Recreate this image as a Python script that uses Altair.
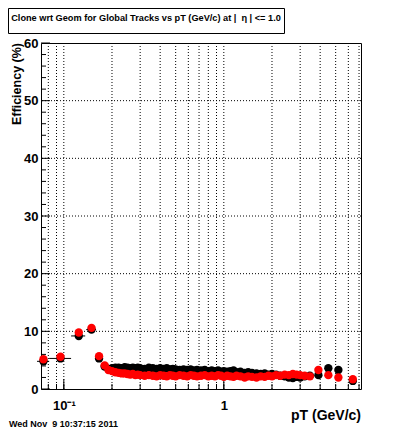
import altair as alt
import pandas as pd

pt = [0.0746, 0.0953, 0.124, 0.149, 0.166, 0.180,
      0.19, 0.20, 0.21, 0.22, 0.23, 0.24, 0.25, 0.26, 0.27, 0.28, 0.29, 0.30,
      0.32, 0.34, 0.36, 0.38, 0.40, 0.42, 0.44, 0.46, 0.48, 0.50, 0.53, 0.56,
      0.59, 0.62, 0.65, 0.68, 0.72, 0.76, 0.80, 0.84, 0.88, 0.92, 0.96, 1.0,
      1.05, 1.1, 1.15, 1.2, 1.27, 1.35, 1.42, 1.5, 1.6, 1.7, 1.8, 1.9, 2.0,
      2.12, 2.25, 2.4, 2.55, 2.7, 2.85, 3.0, 3.2, 3.45, 3.9, 4.5, 5.2, 6.4]
eff_black = [4.8, 5.3, 9.2, 10.3, 5.3, 3.9,
             3.5, 3.6, 3.7, 3.7, 3.6, 3.8, 3.7, 3.6, 3.7, 3.6, 3.7, 3.6,
             3.5, 3.7, 3.6, 3.5, 3.6, 3.5, 3.6, 3.4, 3.5, 3.4, 3.3, 3.4,
             3.3, 3.4, 3.2, 3.3, 3.2, 3.3, 3.1, 3.2, 3.1, 3.2, 3.0, 3.1,
             3.0, 3.1, 3.2, 2.9, 3.0, 2.8, 2.9, 2.8, 2.7, 2.6, 2.7, 2.5, 2.6,
             2.5, 2.3, 2.2, 2.0, 1.9, 2.1, 2.0, 2.2, 2.3, 2.4, 3.6, 3.3, 1.4]
eff_red = [5.15, 5.6, 9.8, 10.6, 5.7, 4.1,
           3.3, 3.1, 2.9, 2.8, 2.7, 2.7, 2.6, 2.5, 2.6, 2.4, 2.5, 2.4,
           2.3, 2.4, 2.3, 2.2, 2.4, 2.3, 2.2, 2.4, 2.3, 2.2, 2.4, 2.3,
           2.2, 2.4, 2.3, 2.2, 2.3, 2.4, 2.2, 2.3, 2.2, 2.4, 2.3, 2.1,
           2.3, 2.2, 2.1, 2.3, 2.2, 2.0, 2.2, 2.1, 2.0, 2.2, 2.1, 2.3, 2.2,
           2.4, 2.3, 2.5, 2.4, 2.6, 2.5, 2.4, 2.3, 2.2, 3.3, 2.4, 2.0, 1.7]

# horizontal bin-width error bars of the first bins
err_pt_lo = [0.068, 0.081, 0.111, 0.138]
err_pt_hi = [0.081, 0.111, 0.136, 0.159]
err_eff = [4.8, 5.3, 9.2, 10.3]

x_grid = [0.08, 0.09, 0.1, 0.2, 0.3, 0.4, 0.5, 0.6, 0.7, 0.8, 0.9, 1, 2, 3, 4, 5, 6, 7]
x_major = [0.1, 1]
y_grid = [10, 20, 30, 40, 50]
y_minor = [2, 4, 6, 8, 12, 14, 16, 18, 22, 24, 26, 28, 32, 34, 36, 38,
           42, 44, 46, 48, 52, 54, 56, 58]
y_major = [0, 10, 20, 30, 40, 50, 60]

NB = "\u00a0"
title_text = "Clone wrt Geom for Global Tracks vs pT (GeV/c) at |" + NB + NB + "\u03b7 | <= 1.0"
date_text = "Wed Nov" + NB + NB + "9 10:37:15 2011"

W, H = 320, 346
FONT = "Liberation Sans"

df = pd.DataFrame({"pt": pt, "black": eff_black, "red": eff_red})
err_df = pd.DataFrame({"lo": err_pt_lo, "hi": err_pt_hi, "eff": err_eff})
xg_df = pd.DataFrame({"x": x_grid})
xm_df = pd.DataFrame({"x": x_major})
yg_df = pd.DataFrame({"y": y_grid})
ymin_df = pd.DataFrame({"y": y_minor})
ymaj_df = pd.DataFrame({"y": y_major})

xscale = alt.Scale(type="log", domain=[0.072, 7.2], nice=False, zero=False)
yscale = alt.Scale(domain=[0, 60], nice=False, zero=False)

xaxis = alt.Axis(values=x_major, labelExpr="datum.value == 1 ? '1' : '10\u207b\u00b9'",
                 ticks=False, domain=False, grid=False, title=None,
                 labelFont=FONT, labelFontWeight="bold", labelFontSize=13,
                 labelColor="black", labelPadding=10)
yaxis = alt.Axis(values=y_major, ticks=False, domain=False, grid=False, title=None,
                 labelFont=FONT, labelFontWeight="bold", labelFontSize=13,
                 labelColor="black", labelPadding=3)

xgrid = alt.Chart(xg_df).mark_rule(color="black", strokeDash=[1, 2], strokeWidth=1).encode(
    x=alt.X("x:Q", scale=xscale, axis=xaxis))
ygrid = alt.Chart(yg_df).mark_rule(color="black", strokeDash=[1, 2], strokeWidth=1).encode(
    y=alt.Y("y:Q", scale=yscale, axis=yaxis))

xticks_minor = alt.Chart(xg_df).mark_rule(color="black").encode(
    x=alt.X("x:Q", scale=xscale), y=alt.value(H), y2=alt.value(H - 5))
xticks_major = alt.Chart(xm_df).mark_rule(color="black").encode(
    x=alt.X("x:Q", scale=xscale), y=alt.value(H), y2=alt.value(H - 10))
yticks_minor = alt.Chart(ymin_df).mark_rule(color="black").encode(
    y=alt.Y("y:Q", scale=yscale), x=alt.value(0), x2=alt.value(5))
yticks_major = alt.Chart(ymaj_df).mark_rule(color="black").encode(
    y=alt.Y("y:Q", scale=yscale), x=alt.value(0), x2=alt.value(9))

errbars = alt.Chart(err_df).mark_rule(color="black", strokeWidth=1).encode(
    x=alt.X("lo:Q", scale=xscale), x2="hi:Q", y=alt.Y("eff:Q", scale=yscale))

black_pts = alt.Chart(df).mark_circle(color="black", size=70, opacity=1).encode(
    x=alt.X("pt:Q", scale=xscale), y=alt.Y("black:Q", scale=yscale))
red_pts = alt.Chart(df).mark_circle(color="#ff0000", size=70, opacity=1).encode(
    x=alt.X("pt:Q", scale=xscale), y=alt.Y("red:Q", scale=yscale))

title_box = alt.Chart(pd.DataFrame({"a": [0]})).mark_rect(
    fill="white", stroke="black", strokeWidth=1).encode(
    x=alt.value(-32.5), x2=alt.value(243.5), y=alt.value(-34.5), y2=alt.value(-9.5))
title_txt = alt.Chart(pd.DataFrame({"t": [title_text]})).mark_text(
    font=FONT, fontWeight="bold", fontSize=9.2, align="center", baseline="middle",
    color="black").encode(text="t:N", x=alt.value(105), y=alt.value(-25))

ytitle = alt.Chart(pd.DataFrame({"t": ["Efficiency (%)"]})).mark_text(
    font=FONT, fontWeight="bold", fontSize=12.5, angle=270, align="right",
    baseline="middle", color="black").encode(text="t:N", x=alt.value(-24), y=alt.value(0))
xtitle = alt.Chart(pd.DataFrame({"t": ["pT (GeV/c)"]})).mark_text(
    font=FONT, fontWeight="bold", fontSize=14, align="right",
    baseline="middle", color="black").encode(text="t:N", x=alt.value(W), y=alt.value(H + 27))
date = alt.Chart(pd.DataFrame({"t": [date_text]})).mark_text(
    font=FONT, fontWeight="bold", fontSize=9, align="left",
    baseline="middle", color="black").encode(text="t:N", x=alt.value(-32), y=alt.value(H + 35))

chart = alt.layer(
    xgrid, ygrid, xticks_minor, xticks_major, yticks_minor, yticks_major,
    errbars, black_pts, red_pts, title_box, title_txt, ytitle, xtitle, date
).properties(
    width=W, height=H,
    autosize=alt.AutoSizeParams(type="none"),
    padding={"left": 33, "top": 35, "right": 31, "bottom": 42},
    background="white"
).configure_view(stroke="black", strokeWidth=1)

chart.save("out.html", embed_options={"renderer": "svg", "actions": False})
